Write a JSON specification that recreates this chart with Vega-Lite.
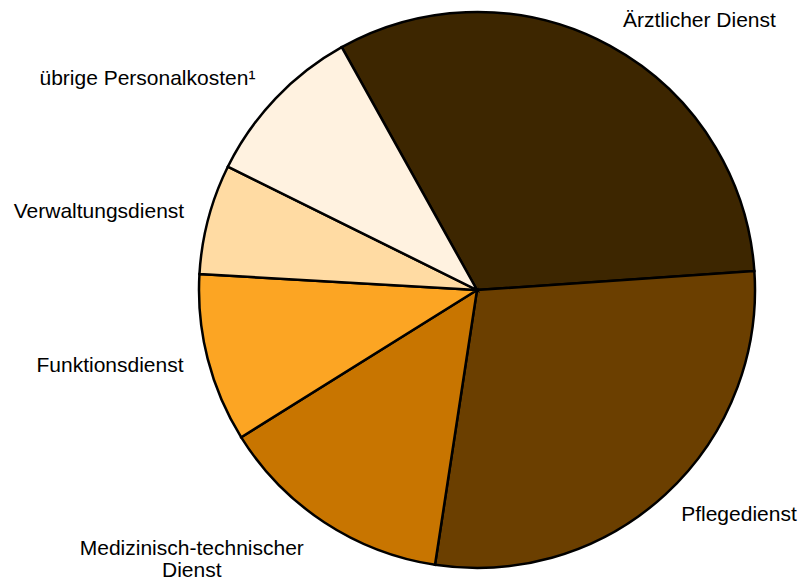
{
  "$schema": "https://vega.github.io/schema/vega-lite/v6.json",
  "width": 556,
  "height": 556,
  "autosize": {"type": "none"},
  "padding": {"left": 199, "top": 12, "right": 48, "bottom": 15},
  "background": "white",
  "view": {"stroke": null},
  "data": {
    "values": [
      {"idx": 0, "label": "Ärztlicher Dienst", "value": 32.0},
      {"idx": 1, "label": "Pflegedienst", "value": 28.5},
      {"idx": 2, "label": "Medizinisch-technischer\nDienst", "value": 13.7},
      {"idx": 3, "label": "Funktionsdienst", "value": 9.8},
      {"idx": 4, "label": "Verwaltungsdienst", "value": 6.4},
      {"idx": 5, "label": "übrige Personalkosten¹", "value": 9.6}
    ]
  },
  "encoding": {
    "theta": {"field": "value", "type": "quantitative", "stack": true, "scale": {"range": [-0.508, 5.775]}},
    "order": {"field": "idx", "type": "quantitative"}
  },
  "layer": [
    {
      "mark": {"type": "arc", "radius": 278, "stroke": "black", "strokeWidth": 2.5, "strokeJoin": "miter"},
      "encoding": {
        "color": {
          "field": "label", "type": "nominal", "legend": null, "sort": null,
          "scale": {
            "domain": ["Ärztlicher Dienst", "Pflegedienst", "Medizinisch-technischer\nDienst", "Funktionsdienst", "Verwaltungsdienst", "übrige Personalkosten¹"],
            "range": ["#3D2600", "#6B3F00", "#C87500", "#FCA523", "#FFDBA3", "#FFF2E0"]
          }
        }
      }
    },
    {
      "mark": {
        "type": "text", "radius": 306, "font": "Liberation Sans", "fontSize": 21, "color": "black",
        "baseline": "middle", "lineBreak": "\n", "lineHeight": 22,
        "align": {"expr": "datum.idx <= 1 ? 'left' : (datum.idx == 2 ? 'center' : 'right')"},
        "dx": {"expr": "datum.idx == 2 ? -117 : (datum.idx == 1 ? -3 : (datum.idx >= 3 && datum.idx <= 4 ? 3 : 0))"},
        "dy": {"expr": "datum.idx == 2 ? 3 : 0"}
      },
      "encoding": {
        "text": {"field": "label", "type": "nominal"}
      }
    }
  ]
}
